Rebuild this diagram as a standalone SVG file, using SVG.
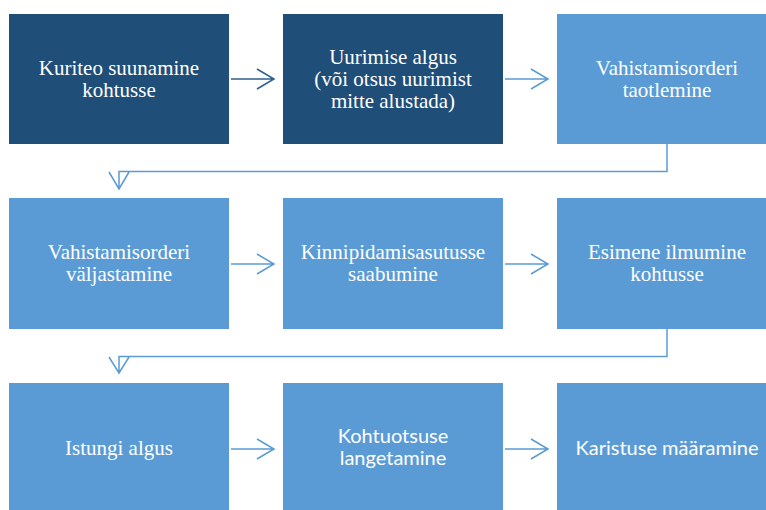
<svg xmlns="http://www.w3.org/2000/svg" width="766" height="510" viewBox="0 0 766 510">
<defs>
<style>
.dark{fill:#1F4E79}
.light{fill:#5B9BD5}
.t{font-family:"Liberation Serif","Times New Roman",serif;font-size:21px;fill:#FFFFFF;text-anchor:middle}
.s{font-family:Lato,"Liberation Sans",sans-serif;font-size:20px;fill:#FFFFFF;text-anchor:middle}
.c{fill:none;stroke-width:1.5;stroke-linejoin:miter}
.cd{stroke:#2F5D8C}
.cl{stroke:#5B9BD5}
</style>
</defs>
<rect width="766" height="510" fill="#FFFFFF"/>
<g id="n1"><rect class="dark" x="9" y="14" width="220" height="130"/><text class="t" x="119" y="75">Kuriteo suunamine</text><text class="t" x="119" y="97">kohtusse</text></g>
<g id="n2"><rect class="dark" x="283" y="14" width="220" height="130"/><text class="t" x="393" y="64">Uurimise algus</text><text class="t" x="393" y="86">(või otsus uurimist</text><text class="t" x="393" y="108">mitte alustada)</text></g>
<g id="n3"><rect class="light" x="557" y="14" width="220" height="130"/><text class="t" x="667" y="75">Vahistamisorderi</text><text class="t" x="667" y="97">taotlemine</text></g>
<g id="n4"><rect class="light" x="9" y="198" width="220" height="131"/><text class="t" x="119" y="259">Vahistamisorderi</text><text class="t" x="119" y="281">väljastamine</text></g>
<g id="n5"><rect class="light" x="283" y="198" width="220" height="131"/><text class="t" x="393" y="259">Kinnipidamisasutusse</text><text class="t" x="393" y="281">saabumine</text></g>
<g id="n6"><rect class="light" x="557" y="198" width="220" height="131"/><text class="t" x="667" y="259">Esimene ilmumine</text><text class="t" x="667" y="281">kohtusse</text></g>
<g id="n7"><rect class="light" x="9" y="383" width="220" height="130"/><text class="t" x="119" y="455">Istungi algus</text></g>
<g id="n8"><rect class="light" x="283" y="383" width="220" height="130"/><text class="s" x="393" y="443">Kohtuotsuse</text><text class="s" x="393" y="465">langetamine</text></g>
<g id="n9"><rect class="light" x="557" y="383" width="220" height="130"/><text class="s" x="667" y="455">Karistuse määramine</text></g>
<g id="connectors">
<path class="c cd" d="M231 79H274M257 69L274 79L257 89"/>
<path class="c cl" d="M505 79H548M531 69L548 79L531 89"/>
<path class="c cl" d="M667 144V171.5H119V189M109 172L119 189L129 172"/>
<path class="c cl" d="M231 264H274M257 254L274 264L257 274"/>
<path class="c cl" d="M505 264H548M531 254L548 264L531 274"/>
<path class="c cl" d="M667 329V356.5H119V373M109 357L119 373L129 357"/>
<path class="c cl" d="M231 449H274M257 439L274 449L257 459"/>
<path class="c cl" d="M505 449H548M531 439L548 449L531 459"/>
</g>
</svg>
